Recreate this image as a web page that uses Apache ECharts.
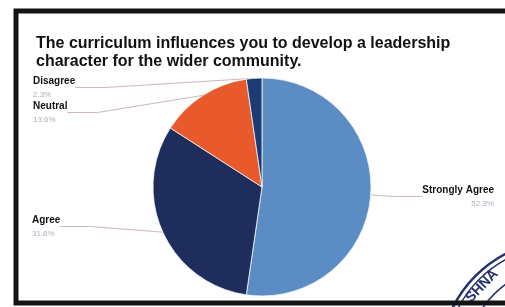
<!DOCTYPE html>
<html>
<head>
<meta charset="utf-8">
<script src="https://cdn.jsdelivr.net/npm/echarts@6/dist/echarts.min.js"></script>
<style>
  html, body { margin: 0; padding: 0; background: #fff; }
  #chart { width: 505px; height: 307px; }
</style>
</head>
<body>
<div id="chart"></div>
<script>
  // responses (percent of answers)
  var categories = ['Strongly Agree', 'Agree', 'Neutral', 'Disagree'];
  var percents = [52.3, 31.8, 13.6, 2.3];
  var sliceColors = ['#5b8cc3', '#1e2d5c', '#e8592b', '#1c3b72'];

  // where each label block sits (left edge / right edge, top)
  var labelSpots = {
    'Strongly Agree': { x: 494, y: 184, align: 'right' },
    'Agree': { x: 32, y: 214, align: 'left' },
    'Neutral': { x: 33, y: 100, align: 'left' },
    'Disagree': { x: 33, y: 75, align: 'left' }
  };

  var chart = echarts.init(document.getElementById('chart'));

  var pieData = categories.map(function (name, i) {
    return { name: name, value: percents[i], itemStyle: { color: sliceColors[i] } };
  });

  chart.setOption({
    backgroundColor: '#fff',
    animation: false,
    title: {
      text: 'The curriculum influences you to develop a leadership\ncharacter for the wider community.',
      left: 31,
      top: 30,
      textStyle: {
        fontFamily: 'Liberation Sans, Arial, sans-serif',
        fontSize: 16,
        fontWeight: 'bold',
        color: '#111',
        lineHeight: 18
      }
    },
    graphic: [
      {
        // photographed paper frame
        type: 'rect',
        shape: { x: 16, y: 11, width: 600, height: 292 },
        style: { fill: 'none', stroke: '#141414', lineWidth: 5 },
        z: 10
      },
      {
        // partial round stamp in the corner
        type: 'group',
        children: [
          { type: 'circle', shape: { cx: 562, cy: 362, r: 122 }, style: { fill: 'none', stroke: '#27306e', lineWidth: 2.5 } },
          { type: 'circle', shape: { cx: 562, cy: 362, r: 117 }, style: { fill: 'none', stroke: '#27306e', lineWidth: 1.5 } },
          { type: 'circle', shape: { cx: 562, cy: 362, r: 96 }, style: { fill: 'none', stroke: '#27306e', lineWidth: 1.5 } },
          {
            type: 'text', x: 482, y: 286, rotation: 0.8,
            style: { text: 'SHNA', fontSize: 14, fontWeight: 'bold', fill: '#27306e',
              fontFamily: 'Liberation Sans, Arial, sans-serif', align: 'center', verticalAlign: 'middle' }
          }
        ]
      }
    ],
    series: [{
      type: 'pie',
      center: [262, 187],
      radius: 109,
      startAngle: 90,
      clockwise: true,
      data: pieData,
      itemStyle: { borderColor: '#f4f6fa', borderWidth: 0.8 },
      label: {
        show: true,
        formatter: '{n|{b}}\n{v|{c}%}',
        rich: {
          n: { fontFamily: 'Liberation Sans, Arial, sans-serif', fontSize: 10, fontWeight: 'bold', color: '#111', lineHeight: 13 },
          v: { fontFamily: 'Liberation Sans, Arial, sans-serif', fontSize: 8, color: '#a9b0bc', lineHeight: 13 }
        }
      },
      labelLine: {
        show: true,
        lineStyle: { color: '#cbb9bc', width: 1 }
      },
      labelLayout: function (params) {
        var spot = labelSpots[categories[params.dataIndex]];
        return { x: spot.x, y: spot.y, align: spot.align, verticalAlign: 'top' };
      }
    }]
  });
</script>
</body>
</html>
